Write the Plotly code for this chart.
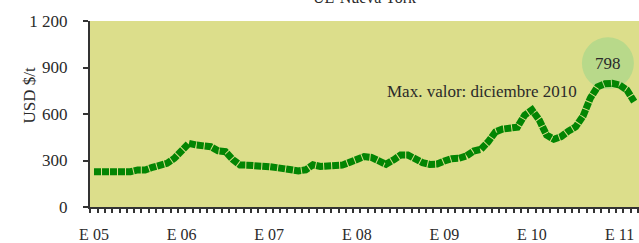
import plotly.graph_objects as go

# Monthly prices, Jan 2005 .. Mar 2011 (USD $/t)
months = list(range(75))
prices = [
    228, 228, 222, 217, 217, 228, 239, 239, 256, 271, 282, 314,   # 2005
    357, 411, 400, 400, 389, 363, 357, 307, 271, 270, 270, 270,   # 2006
    260, 254, 245, 233, 233, 240, 272, 262, 262, 262, 270, 288,   # 2007
    310, 325, 320, 297, 275, 303, 335, 335, 307, 286, 275, 277,   # 2008
    297, 312, 314, 329, 361, 372, 421, 485, 503, 507, 515, 593,   # 2009
    626, 561, 464, 437, 454, 490, 518, 587, 703, 776, 795, 798,   # 2010
    787, 755, 680,                                                # 2011
]
tick_months = [0, 12, 24, 36, 48, 60, 72]
tick_labels = ["E 05", "E 06", "E 07", "E 08", "E 09", "E 10", "E 11"]
y_ticks = [0, 300, 600, 900, 1200]
y_tick_labels = ["0", "300", "600", "900", "1 200"]
max_value = 798
max_label = "Max. valor: diciembre 2010"
title_text = "UE-Nueva York"
y_title = "USD $/t"

FONT = "Liberation Serif"
TXT = "#2a2a2a"
AX = "#333333"

fig = go.Figure()
fig.add_trace(go.Scatter(
    x=months, y=prices, mode="lines",
    line=dict(color="#038503", width=7, dash="7px,1px"),
    hoverinfo="skip", showlegend=False,
))

# highlight circle behind the max label
fig.add_shape(type="circle", xref="x", yref="y", xsizemode="pixel", ysizemode="pixel",
              xanchor=70.4, yanchor=927, x0=-26, x1=26, y0=-26, y1=26,
              fillcolor="#b8d98a", line=dict(width=0), layer="below")
fig.add_annotation(x=70.4, y=927, xref="x", yref="y", text=str(max_value), showarrow=False,
                   font=dict(family=FONT, size=17, color=TXT))
fig.add_annotation(x=53.2, y=742, xref="x", yref="y", text=max_label, showarrow=False,
                   font=dict(family=FONT, size=17, color=TXT))
# clipped title at top
fig.add_annotation(x=0.5, y=1.068, xref="paper", yref="paper", yanchor="bottom",
                   text=title_text, showarrow=False,
                   font=dict(family=FONT, size=16, color=TXT))
# y axis title
fig.add_annotation(x=(17 - 90) / 549, y=(207 - 96) / 186, xref="paper", yref="paper",
                   text=y_title, showarrow=False,
                   textangle=-90, font=dict(family=FONT, size=17, color=TXT))

fig.update_layout(
    width=639, height=243,
    margin=dict(l=90, r=0, t=21, b=36, autoexpand=False),
    paper_bgcolor="white", plot_bgcolor="#dcde8b",
    font=dict(family=FONT, size=16, color=TXT),
    xaxis=dict(
        range=[-0.55, 74.66], tickmode="array", tickvals=tick_months, ticktext=tick_labels,
        ticks="outside", ticklen=4, tickcolor="rgba(0,0,0,0)",
        ticklabelstandoff=8, automargin=False,
        showgrid=False, zeroline=False, showline=True, linecolor=AX, linewidth=2,
        tickfont=dict(family=FONT, size=16, color=TXT),
        minor=dict(ticks="outside", ticklen=4, tickwidth=2, tickcolor=AX,
                   tick0=-0.5, dtick=1, showgrid=False),
    ),
    yaxis=dict(
        range=[0, 1200], tickmode="array", tickvals=y_ticks, ticktext=y_tick_labels,
        ticks="outside", ticklen=5, tickwidth=2, tickcolor=AX,
        ticklabelstandoff=12, automargin=False,
        showgrid=False, zeroline=False, showline=True, linecolor=AX, linewidth=2,
        tickfont=dict(family=FONT, size=17, color=TXT),
    ),
)

fig.write_html("out.html", config={"displayModeBar": False},
               post_script="document.body.style.margin='0';document.body.style.overflow='hidden';")
